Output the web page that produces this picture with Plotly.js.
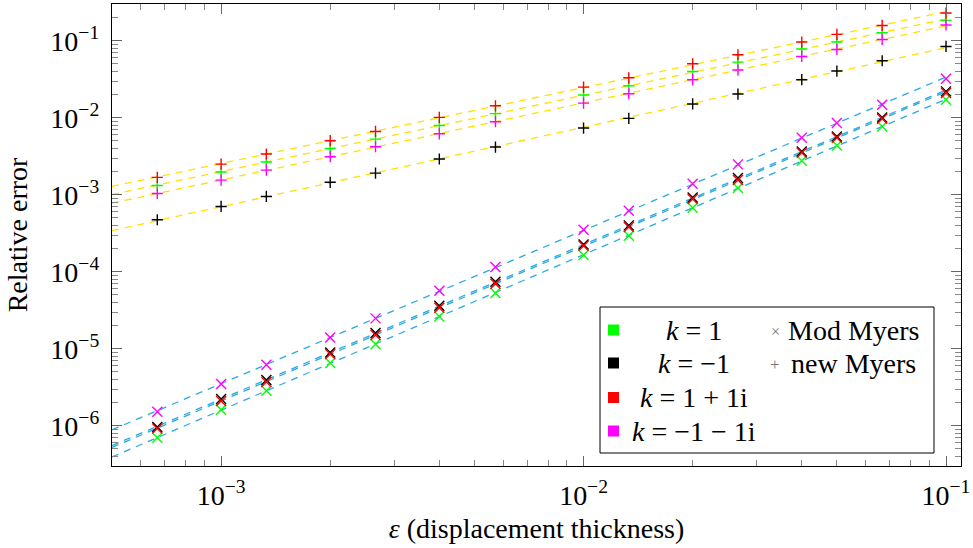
<!DOCTYPE html>
<html><head><meta charset="utf-8">
<script src="https://cdn.plot.ly/plotly-3.0.1.min.js"></script>
<style>html,body{margin:0;padding:0;background:#fff;}#chart{width:973px;height:548px;}</style>
</head><body><div id="chart"></div>
<script>
// ---- data ----
const eps = [6.667e-4, 1e-3, 1.333e-3, 2e-3, 2.667e-3, 4e-3, 5.714e-3, 1e-2, 1.333e-2, 2e-2, 2.667e-2, 4e-2, 5e-2, 6.667e-2, 0.1];

const seriesNames  = ['k = 1', 'k = −1', 'k = 1 + 1i', 'k = −1 − 1i'];
const seriesLabels = ['<i>k</i> = 1', '<i>k</i> = −1', '<i>k</i> = 1 + 1i', '<i>k</i> = −1 − 1i'];
const seriesColors = ['#00ff00', '#000000', '#ff0000', '#ff00ff'];

// "new Myers" (+ markers)
const newMyers_k1     = [1.32e-3, 1.97e-3, 2.66e-3, 3.99e-3, 5.28e-3, 7.94e-3, 1.13e-2, 1.97e-2, 2.60e-2, 3.99e-2, 5.28e-2, 7.80e-2, 9.62e-2, 0.127, 0.184];
const newMyers_km1    = [4.73e-4, 7.05e-4, 9.50e-4, 1.45e-3, 1.91e-3, 2.91e-3, 4.16e-3, 7.35e-3, 9.80e-3, 1.51e-2, 2.03e-2, 3.12e-2, 4.04e-2, 5.50e-2, 8.43e-2];
const newMyers_k1p1i  = [1.68e-3, 2.50e-3, 3.38e-3, 5.03e-3, 6.64e-3, 1.01e-2, 1.43e-2, 2.50e-2, 3.30e-2, 5.02e-2, 6.58e-2, 9.62e-2, 0.121, 0.158, 0.229];
const newMyers_km1m1i = [1.04e-3, 1.55e-3, 2.09e-3, 3.12e-3, 4.20e-3, 6.19e-3, 8.87e-3, 1.55e-2, 2.05e-2, 3.12e-2, 4.16e-2, 6.25e-2, 7.70e-2, 0.104, 0.160];

// "Mod Myers" (x markers)
const modMyers_k1     = [6.98e-7, 1.61e-6, 2.85e-6, 6.52e-6, 1.14e-5, 2.63e-5, 5.28e-5, 1.65e-4, 2.94e-4, 6.78e-4, 1.22e-3, 2.77e-3, 4.37e-3, 7.70e-3, 1.71e-2];
const modMyers_km1    = [9.60e-7, 2.22e-6, 3.93e-6, 8.95e-6, 1.60e-5, 3.61e-5, 7.41e-5, 2.26e-4, 4.00e-4, 9.20e-4, 1.65e-3, 3.65e-3, 5.70e-3, 1.01e-2, 2.20e-2];
const modMyers_k1p1i  = [9.20e-7, 2.10e-6, 3.70e-6, 8.53e-6, 1.51e-5, 3.40e-5, 6.98e-5, 2.18e-4, 3.80e-4, 8.80e-4, 1.55e-3, 3.50e-3, 5.50e-3, 9.70e-3, 2.10e-2];
const modMyers_km1m1i = [1.52e-6, 3.48e-6, 6.20e-6, 1.40e-5, 2.48e-5, 5.66e-5, 1.15e-4, 3.51e-4, 6.20e-4, 1.39e-3, 2.48e-3, 5.50e-3, 8.53e-3, 1.47e-2, 3.21e-2];

const xTickVals = [1e-3, 1e-2, 1e-1];
const xTickText = ['10<sup>−3</sup>', '10<sup>−2</sup>', '10<sup>−1</sup>'];
const yTickVals = [1e-6, 1e-5, 1e-4, 1e-3, 1e-2, 1e-1];
const yTickText = ['10<sup>−6</sup>', '10<sup>−5</sup>', '10<sup>−4</sup>', '10<sup>−3</sup>', '10<sup>−2</sup>', '10<sup>−1</sup>'];

const xRange = [5e-4, 0.11];
const yRange = [3e-7, 0.3];
const fitDomain = [5e-4, 0.1];

// ---- helpers ----
function logFit(xs, ys) {
  const lx = xs.map(Math.log10), ly = ys.map(Math.log10);
  const n = lx.length;
  const mx = lx.reduce((a, b) => a + b, 0) / n, my = ly.reduce((a, b) => a + b, 0) / n;
  let sxy = 0, sxx = 0;
  for (let i = 0; i < n; i++) { sxy += (lx[i] - mx) * (ly[i] - my); sxx += (lx[i] - mx) ** 2; }
  const b = sxy / sxx, a = my - b * mx;
  return x => Math.pow(10, a + b * Math.log10(x));
}
function minorTicks(lo, hi) {
  const out = [];
  for (let e = Math.floor(Math.log10(lo)); e <= Math.ceil(Math.log10(hi)); e++) {
    for (let m = 2; m <= 9; m++) { const v = m * Math.pow(10, e); if (v >= lo * 0.999 && v <= hi * 1.001) out.push(v); }
  }
  return out;
}

const newMyers = [newMyers_k1, newMyers_km1, newMyers_k1p1i, newMyers_km1m1i];
const modMyers = [modMyers_k1, modMyers_km1, modMyers_k1p1i, modMyers_km1m1i];

const FONT = "'Times New Roman', 'Liberation Serif', 'DejaVu Serif', serif";
const traces = [];
const dashPat = '7px,6px';
// fit lines
newMyers.forEach((ys, i) => {
  const f = logFit(eps, ys);
  traces.push({x: fitDomain, y: fitDomain.map(f), mode: 'lines', type: 'scatter',
    line: {color: '#ffe100', width: 1.3, dash: dashPat}, hoverinfo: 'skip', name: 'fit new ' + seriesNames[i]});
});
modMyers.forEach((ys, i) => {
  const f = logFit(eps, ys);
  traces.push({x: fitDomain, y: fitDomain.map(f), mode: 'lines', type: 'scatter',
    line: {color: '#2aaae2', width: 1.3, dash: dashPat}, hoverinfo: 'skip', name: 'fit mod ' + seriesNames[i]});
});
// markers
modMyers.forEach((ys, i) => {
  traces.push({x: eps, y: ys, mode: 'markers', type: 'scatter', name: 'Mod Myers ' + seriesNames[i],
    marker: {symbol: 'x-thin', size: 10, color: seriesColors[i], line: {color: seriesColors[i], width: 1.4}}});
});
newMyers.forEach((ys, i) => {
  traces.push({x: eps, y: ys, mode: 'markers', type: 'scatter', name: 'new Myers ' + seriesNames[i],
    marker: {symbol: 'cross-thin', size: 8, color: seriesColors[i], line: {color: seriesColors[i], width: 1.4}}});
});

// ---- legend (drawn in paper coordinates) ----
const L = 112, R = 961, T = 4, B = 466;
const px = x => (x - L) / (R - L);
const py = y => (B - y) / (B - T);
const shapes = [{type: 'rect', xref: 'paper', yref: 'paper', x0: px(600), x1: px(934), y0: py(453), y1: py(307),
  line: {color: '#000', width: 1}, fillcolor: '#fff', layer: 'above'}];
const annotations = [];
const rowY = [330, 363, 397.5, 431];
const labelFont = {family: FONT, size: 28, color: '#000'};
seriesColors.forEach((c, i) => {
  shapes.push({type: 'rect', xref: 'paper', yref: 'paper', x0: px(608), x1: px(619), y0: py(rowY[i] + 5.5), y1: py(rowY[i] - 5.5),
    line: {width: 0}, fillcolor: c, layer: 'above'});
  annotations.push({xref: 'paper', yref: 'paper', x: px(694), y: py(rowY[i]), text: seriesLabels[i], showarrow: false,
    xanchor: 'center', yanchor: 'middle', font: labelFont});
});
annotations.push({xref: 'paper', yref: 'paper', x: px(775), y: py(rowY[0] + 1), text: '×', showarrow: false,
  xanchor: 'center', yanchor: 'middle', font: {family: FONT, size: 16, color: '#777'}});
annotations.push({xref: 'paper', yref: 'paper', x: px(786), y: py(rowY[0]), text: 'Mod Myers', showarrow: false,
  xanchor: 'left', yanchor: 'middle', font: labelFont});
annotations.push({xref: 'paper', yref: 'paper', x: px(775), y: py(rowY[1] + 1), text: '+', showarrow: false,
  xanchor: 'center', yanchor: 'middle', font: {family: FONT, size: 17, color: '#777'}});
annotations.push({xref: 'paper', yref: 'paper', x: px(789), y: py(rowY[1]), text: 'new Myers', showarrow: false,
  xanchor: 'left', yanchor: 'middle', font: labelFont});

const axisCommon = {
  type: 'log', showgrid: false, zeroline: false, showline: true, linecolor: '#000', linewidth: 1.2,
  mirror: 'allticks', ticks: 'inside', ticklen: 10, tickwidth: 1, tickcolor: '#666',
  tickfont: {family: FONT, size: 28, color: '#000'}
};

const layout = {
  width: 973, height: 548,
  margin: {l: L, r: 973 - R, t: T, b: 548 - B},
  paper_bgcolor: '#fff', plot_bgcolor: '#fff',
  showlegend: false,
  font: {family: FONT, size: 28, color: '#000'},
  xaxis: Object.assign({}, axisCommon, {
    range: xRange.map(Math.log10), tickmode: 'array', tickvals: xTickVals, ticktext: xTickText,
    minor: {tickmode: 'array', tickvals: minorTicks(xRange[0], xRange[1]), ticks: 'inside', ticklen: 6, tickwidth: 1, tickcolor: '#888', showgrid: false},
    title: {text: '<i>ε</i> (displacement thickness)', font: {family: FONT, size: 28}, standoff: 8},
    ticklabelstandoff: 4
  }),
  yaxis: Object.assign({}, axisCommon, {
    range: yRange.map(Math.log10), tickmode: 'array', tickvals: yTickVals, ticktext: yTickText,
    minor: {tickmode: 'array', tickvals: minorTicks(yRange[0], yRange[1]), ticks: 'inside', ticklen: 6, tickwidth: 1, tickcolor: '#888', showgrid: false},
    title: {text: 'Relative error', font: {family: FONT, size: 28}, standoff: 14},
    ticklabelstandoff: 6
  }),
  shapes: shapes,
  annotations: annotations
};

Plotly.newPlot('chart', traces, layout, {staticPlot: true, displayModeBar: false});
</script>
</body></html>
